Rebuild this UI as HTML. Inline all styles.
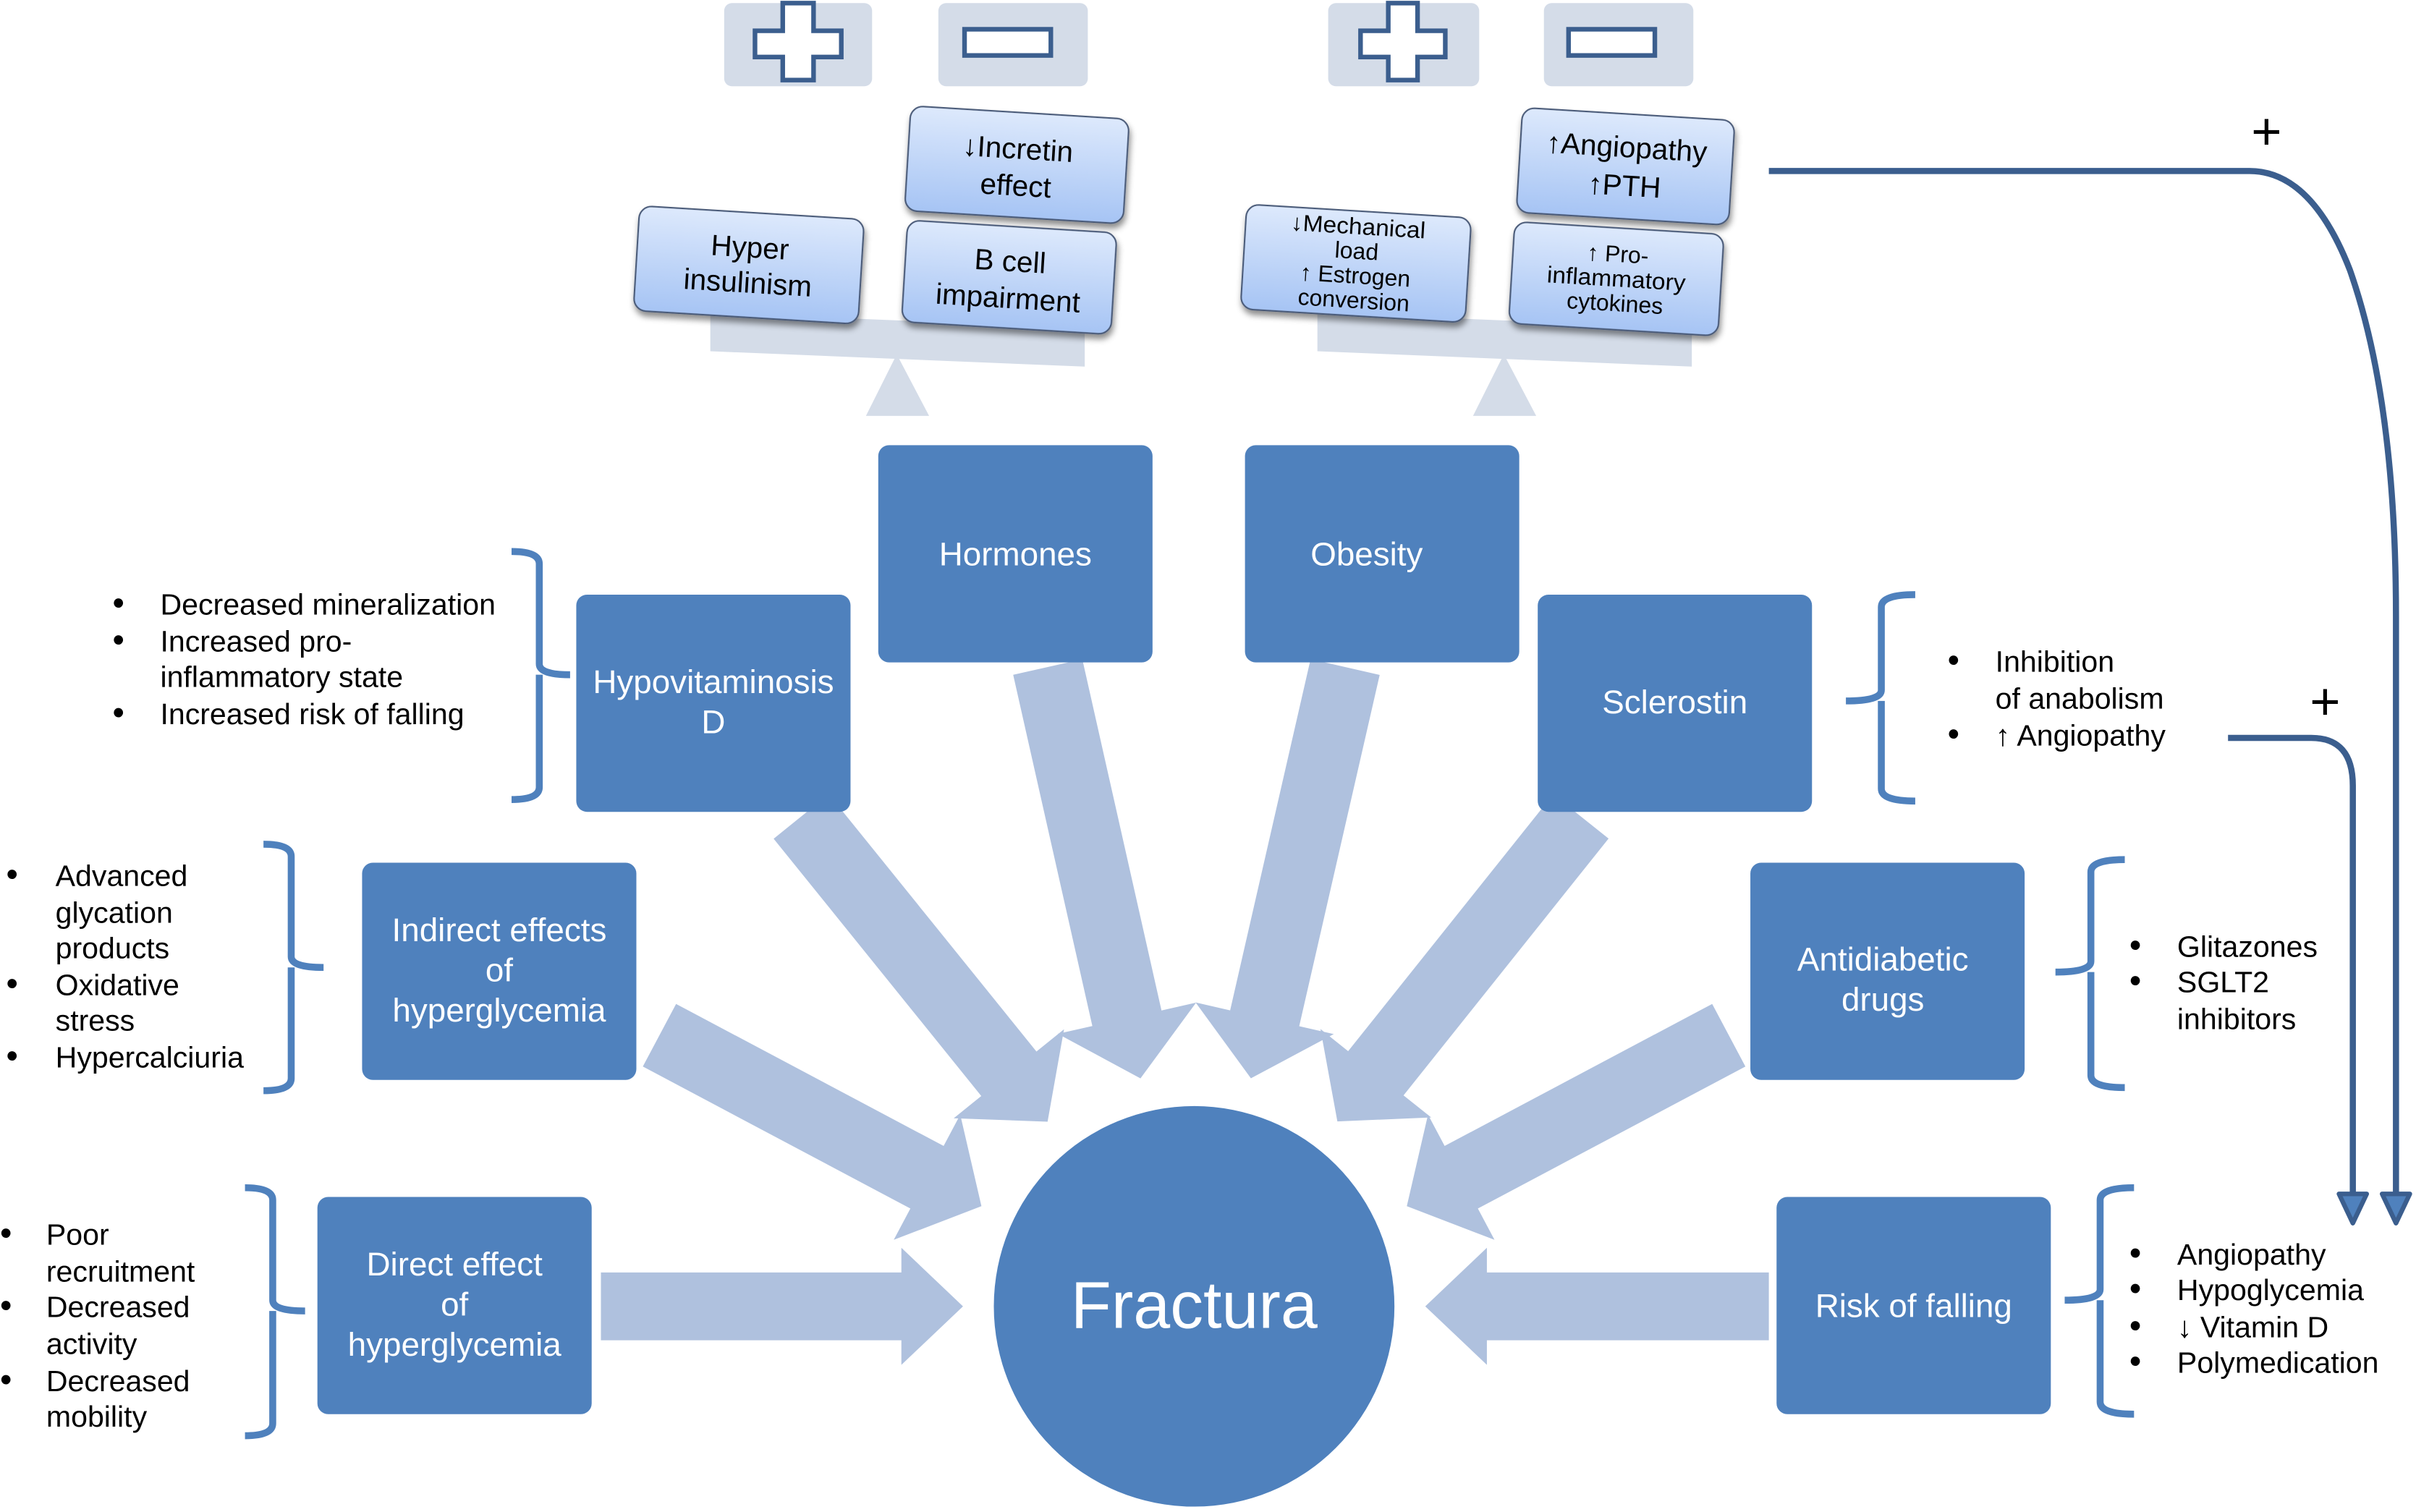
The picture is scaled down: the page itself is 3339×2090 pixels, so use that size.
<!DOCTYPE html>
<html><head><meta charset="utf-8"><style>
html,body{margin:0;padding:0;background:#fff}
svg{display:block}
text{font-family:"Liberation Sans",sans-serif}
</style></head><body>
<svg width="3339" height="2090" viewBox="0 0 1568 981.5" preserveAspectRatio="none" xmlns="http://www.w3.org/2000/svg">
<defs>
<linearGradient id="g" x1="0" y1="0" x2="0" y2="1"><stop offset="0" stop-color="#DDE9FC"/><stop offset="1" stop-color="#A6C4F4"/></linearGradient>
<filter id="sh" x="-20%" y="-20%" width="140%" height="150%"><feDropShadow dx="1" dy="3" stdDeviation="2" flood-color="#000" flood-opacity="0.45"/></filter>
</defs>

<g fill="#D4DCE8">
<rect x="470" y="2" width="96" height="54" rx="5"/><rect x="609" y="2" width="97" height="54" rx="5"/>
<rect x="862" y="2" width="98" height="54" rx="5"/><rect x="1002" y="2" width="97" height="54" rx="5"/>
</g>
<g fill="#fff" stroke="#3B5E8E" stroke-width="3">
<path d="M508,2 H528 V20 H546 V37 H528 V52 H508 V37 H490 V20 H508 Z"/>
<rect x="626" y="19" width="56" height="17"/>
<path d="M901,2 H920 V20 H938 V37 H920 V52 H901 V37 H883 V20 H901 Z"/>
<rect x="1018" y="19" width="56" height="17"/>
</g>

<g fill="#D4DCE8">
<polygon points="461,203 704,213 704,238 461,228"/>
<polygon points="582,230 603,270 562,270"/>
<polygon points="855,203 1098,213 1098,238 855,228"/>
<polygon points="976,230 997,270 956,270"/>
</g>

<g font-size="19" text-anchor="middle" fill="#000">
<g transform="translate(486,172) rotate(3.5)"><rect x="-73" y="-34" width="146" height="68" rx="8" fill="url(#g)" stroke="#4A5A78" filter="url(#sh)"/><text y="-5">Hyper</text><text y="18">insulinism</text></g>
<g transform="translate(660,107) rotate(3.5)"><rect x="-71" y="-34" width="142" height="68" rx="8" fill="url(#g)" stroke="#4A5A78" filter="url(#sh)"/><text y="-4">↓Incretin</text><text y="20">effect</text></g>
<g transform="translate(655,180) rotate(3.5)"><rect x="-68" y="-33" width="136" height="66" rx="8" fill="url(#g)" stroke="#4A5A78" filter="url(#sh)"/><text y="-4">B cell</text><text y="20">impairment</text></g>
<g transform="translate(880,171) rotate(3.5)" font-size="15"><rect x="-73" y="-34" width="146" height="68" rx="8" fill="url(#g)" stroke="#4A5A78" filter="url(#sh)"/><text y="-19" transform="scale(1.05,1)">↓Mechanical</text><text y="-3">load</text><text y="13">↑ Estrogen</text><text y="29">conversion</text></g>
<g transform="translate(1055,108) rotate(3.5)"><rect x="-69" y="-34" width="138" height="68" rx="8" fill="url(#g)" stroke="#4A5A78" filter="url(#sh)"/><text y="-6">↑Angiopathy</text><text y="19">↑PTH</text></g>
<g transform="translate(1049,181) rotate(3.5)" font-size="15"><rect x="-68" y="-33" width="136" height="66" rx="8" fill="url(#g)" stroke="#4A5A78" filter="url(#sh)"/><text y="-11">↑ Pro-</text><text y="5" transform="scale(1.05,1)">inflammatory</text><text y="21">cytokines</text></g>
</g>

<g fill="#AFC1DE">
<g transform="translate(520,530) rotate(51.1)"><polygon points="0,-23 214.6,-23 214.6,-46 254.6,0 214.6,46 214.6,23 0,23"/></g>
<g transform="translate(680,433) rotate(77.3)"><polygon points="0,-23 233.7,-23 233.7,-46 273.7,0 233.7,46 233.7,23 0,23"/></g>
<g transform="translate(873,433) rotate(102.9)"><polygon points="0,-23 233.9,-23 233.9,-46 273.9,0 233.9,46 233.9,23 0,23"/></g>
<g transform="translate(1026,530) rotate(128.6)"><polygon points="0,-23 213.3,-23 213.3,-46 253.3,0 213.3,46 213.3,23 0,23"/></g>
<g transform="translate(428,672) rotate(27.97)"><polygon points="0,-23 196.6,-23 196.6,-46 236.6,0 196.6,46 196.6,23 0,23"/></g>
<g transform="translate(1122,672) rotate(152.03)"><polygon points="0,-23 196.6,-23 196.6,-46 236.6,0 196.6,46 196.6,23 0,23"/></g>
<g transform="translate(390,848)"><polygon points="0,-22 195,-22 195,-38 235,0 195,38 195,22 0,22"/></g>
<g transform="translate(1148,848) rotate(180)"><polygon points="0,-22 183,-22 183,-38 223,0 183,38 183,22 0,22"/></g>
</g>

<g fill="#4F81BD">
<rect x="570" y="289" width="178" height="141" rx="7"/>
<rect x="808" y="289" width="178" height="141" rx="7"/>
<rect x="374" y="386" width="178" height="141" rx="7"/>
<rect x="998" y="386" width="178" height="141" rx="7"/>
<rect x="235" y="560" width="178" height="141" rx="7"/>
<rect x="1136" y="560" width="178" height="141" rx="7"/>
<rect x="206" y="777" width="178" height="141" rx="7"/>
<rect x="1153" y="777" width="178" height="141" rx="7"/>
<circle cx="775" cy="848" r="130"/>
</g>
<g fill="#fff" font-size="21.5" text-anchor="middle">
<text x="659" y="367">Hormones</text>
<text x="887" y="367">Obesity</text>
<text x="463" y="450">Hypovitaminosis</text><text x="463" y="476">D</text>
<text x="1087" y="463">Sclerostin</text>
<text x="324" y="611">Indirect effects</text><text x="324" y="637">of</text><text x="324" y="663">hyperglycemia</text>
<text x="1222" y="630">Antidiabetic</text><text x="1222" y="656">drugs</text>
<text x="295" y="828">Direct effect</text><text x="295" y="854">of</text><text x="295" y="880">hyperglycemia</text>
<text x="1242" y="855">Risk of falling</text>
<text x="775" y="862" font-size="43">Fractura</text>
</g>

<g fill="none" stroke="#4F81BD" stroke-width="4.5">
<path d="M332,358 Q350,358 350,366 L350,431 Q350,438 370,438 M350,438 Q350,445 350,450 L350,511 Q350,519 332,519"/>
<path d="M171,548 Q189,548 189,556 L189,621 Q189,628 210,628 M189,628 L189,700 Q189,708 171,708"/>
<path d="M159,771 Q177,771 177,779 L177,844 Q177,851 198,851 M177,851 L177,924 Q177,932 159,932"/>
<path d="M1243,386 Q1221,386 1221,394 L1221,448 Q1221,455 1198,455 M1221,455 L1221,512 Q1221,520 1243,520"/>
<path d="M1379,558 Q1357,558 1357,566 L1357,624 Q1357,631 1334,631 M1357,631 L1357,698 Q1357,706 1379,706"/>
<path d="M1385,771 Q1363,771 1363,779 L1363,837 Q1363,844 1340,844 M1363,844 L1363,910 Q1363,918 1385,918"/>
</g>

<g font-size="19.3" fill="#000">
<g font-size="22"><text x="73" y="399">•</text><text x="73" y="423">•</text><text x="73" y="470">•</text></g>
<text x="104" y="399">Decreased mineralization</text><text x="104" y="423">Increased pro-</text><text x="104" y="446">inflammatory state</text><text x="104" y="470">Increased risk of falling</text>
<g font-size="22"><text x="4" y="575">•</text><text x="4" y="646">•</text><text x="4" y="693">•</text></g>
<text x="36" y="575">Advanced</text><text x="36" y="599">glycation</text><text x="36" y="622">products</text><text x="36" y="646">Oxidative</text><text x="36" y="669">stress</text><text x="36" y="693">Hypercalciuria</text>
<g font-size="22"><text x="0" y="808">•</text><text x="0" y="855">•</text><text x="0" y="903">•</text></g>
<text x="30" y="808">Poor</text><text x="30" y="832">recruitment</text><text x="30" y="855">Decreased</text><text x="30" y="879">activity</text><text x="30" y="903">Decreased</text><text x="30" y="926">mobility</text>
<g font-size="22"><text x="1264" y="436">•</text><text x="1264" y="484">•</text></g>
<text x="1295" y="436">Inhibition</text><text x="1295" y="460">of anabolism</text><text x="1295" y="484">↑ Angiopathy</text>
<g font-size="22"><text x="1382" y="621">•</text><text x="1382" y="644">•</text></g>
<text x="1413" y="621">Glitazones</text><text x="1413" y="644">SGLT2</text><text x="1413" y="668">inhibitors</text>
<g font-size="22"><text x="1382" y="821">•</text><text x="1382" y="844">•</text><text x="1382" y="868">•</text><text x="1382" y="891">•</text></g>
<text x="1413" y="821">Angiopathy</text><text x="1413" y="844">Hypoglycemia</text><text x="1413" y="868">↓ Vitamin D</text><text x="1413" y="891">Polymedication</text>
</g>

<g fill="none" stroke="#3B5E8E" stroke-width="4">
<path d="M1148,111 L1460,111 Q1500,111 1525,175 Q1555,260 1555,400 L1555,775"/>
<path d="M1446,479 L1500,479 Q1527,479 1527,510 L1527,775"/>
</g>
<g fill="#4F81BD" stroke="#3B5E8E" stroke-width="3" stroke-linejoin="round">
<polygon points="1546,775 1564,775 1555,794"/>
<polygon points="1518,775 1536,775 1527,794"/>
</g>
<g font-size="34" fill="#000" text-anchor="middle">
<text x="1471" y="97">+</text>
<text x="1509" y="467">+</text>
</g>
</svg>
</body></html>
